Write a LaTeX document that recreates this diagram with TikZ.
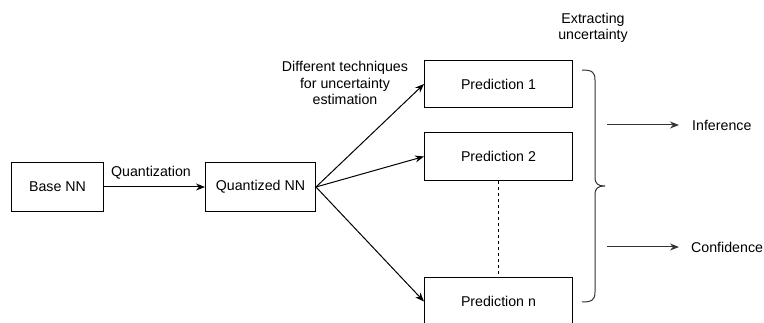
\documentclass[tikz,border=0pt]{standalone}
\usepackage{fontspec}
\setmainfont{Liberation Sans}
\usetikzlibrary{arrows.meta}
\begin{document}
\begin{tikzpicture}[x=1pt,y=-1pt,
  every node/.style={font=\fontsize{14.2}{16.5}\selectfont, inner sep=0pt},
  box/.style={draw, line width=1pt, anchor=north west},
  conn/.style={line width=1pt, -{Stealth[length=9pt,width=7pt]}},
  lbl/.style={align=center}]
\useasboundingbox (0,0) rectangle (764,323);
\node[box, minimum width=92pt, minimum height=49pt] (base) at (11,162) {Base NN};
\node[box, minimum width=110pt, minimum height=49pt] (quant) at (205,162) {Quantized NN};
\node[box, minimum width=148pt, minimum height=47pt] (p1) at (424,60) {Prediction 1};
\node[box, minimum width=148pt, minimum height=48pt] (p2) at (424,132) {Prediction 2};
\node[box, minimum width=148pt, minimum height=48pt] (pn) at (424,277) {Prediction n};
\node[lbl] (qlab) at (151,173) {Quantization};
\node[lbl] (dlab) at (345,83) {Different techniques\\for uncertainty\\estimation};
\node[lbl] (elab) at (593,28) {Extracting\\uncertainty};
\node[anchor=west] (inf) at (692,125) {Inference};
\node[anchor=west] (conf) at (691,247) {Confidence};
\coordinate (qo) at (quant.east);
\draw[conn] (base.east) -- (quant.west);
\draw[conn] (qo) -- (p1.west);
\draw[conn] (qo) -- (p2.west);
\draw[conn] (qo) -- (pn.west);
\draw[line width=1pt, dashed] (p2.south) -- (pn.north);
\coordinate (bt) at (582,70);
\coordinate (bb) at (582,302);
\draw[line width=1pt, black!80] (bt) .. controls (592,70) and (595,72) .. (595,80)
  -- (595,177) .. controls (595,184) and (598,186) .. (605,186)
  .. controls (598,186) and (595,188) .. (595,195)
  -- (595,292) .. controls (595,300) and (592,302) .. (bb);
\coordinate (ia) at (607,125);
\coordinate (ca) at (607,247);
\draw[conn, black!80, shorten >=13pt] (ia) -- (inf.west);
\draw[conn, black!80, shorten >=12pt] (ca) -- (conf.west);
\end{tikzpicture}
\end{document}
